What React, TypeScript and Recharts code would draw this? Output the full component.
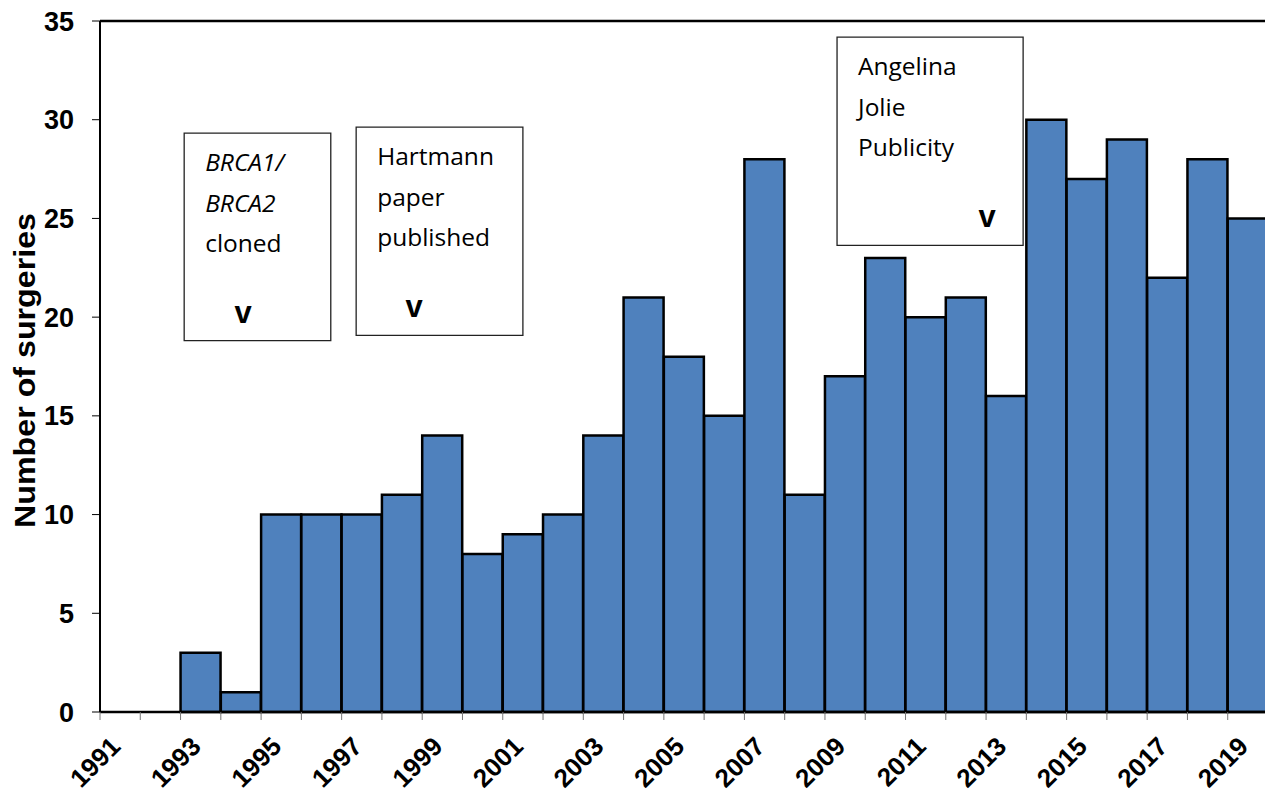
import { BarChart, Bar, XAxis, YAxis, ReferenceArea, ReferenceLine } from "recharts";

const years = [
  1991, 1992, 1993, 1994, 1995, 1996, 1997, 1998, 1999, 2000, 2001, 2002, 2003, 2004, 2005,
  2006, 2007, 2008, 2009, 2010, 2011, 2012, 2013, 2014, 2015, 2016, 2017, 2018, 2019,
];
const surgeries = [
  0, 0, 3, 1, 10, 10, 10, 11, 14, 8, 9, 10, 14, 21, 18, 15, 28, 11, 17, 23, 20, 21, 16, 30, 27,
  29, 22, 28, 25,
];
const yearTicks = [...years, 2020];
const yTicks = [0, 5, 10, 15, 20, 25, 30, 35];

interface Note {
  lines: { text: string; italic?: boolean }[];
  x1: number;
  x2: number;
  y1: number;
  y2: number;
  markDx: number;
}

const notes: Note[] = [
  {
    lines: [{ text: "BRCA1/", italic: true }, { text: "BRCA2", italic: true }, { text: "cloned" }],
    x1: 1993.09,
    x2: 1996.73,
    y1: 18.81,
    y2: 29.32,
    markDx: 59,
  },
  {
    lines: [{ text: "Hartmann" }, { text: "paper" }, { text: "published" }],
    x1: 1997.36,
    x2: 2001.5,
    y1: 19.08,
    y2: 29.62,
    markDx: 58,
  },
  {
    lines: [{ text: "Angelina" }, { text: "Jolie" }, { text: "Publicity" }],
    x1: 2009.3,
    x2: 2013.92,
    y1: 23.64,
    y2: 34.18,
    markDx: 150,
  },
];

const data = years.map((year, i) => ({ year, value: surgeries[i] }));

const AXIS_FONT = "'Liberation Sans', Arial, sans-serif";
const NOTE_FONT = "'Open Sans', 'Noto Sans', sans-serif";

// odd years only, rotated like the spreadsheet original
const YearTick = (props: any) => {
  const { x, y, payload } = props;
  if (payload.value % 2 === 0) return null;
  const ax = x + 22;
  const ay = y + 26;
  return (
    <text
      x={ax}
      y={ay}
      transform={`rotate(-45, ${ax}, ${ay})`}
      textAnchor="end"
      fontFamily={AXIS_FONT}
      fontWeight="bold"
      fontSize={26}
      fill="#000"
    >
      {payload.value}
    </text>
  );
};

const NoteLabel = (props: any) => {
  const { viewBox, note } = props;
  if (!viewBox) return null;
  const { x, y } = viewBox;
  return (
    <g>
      {note.lines.map((ln: any, i: number) => (
        <text
          key={i}
          x={x + 21}
          y={y + 38 + i * 40.5}
          fontFamily={NOTE_FONT}
          fontSize={24.5}
          fontStyle={ln.italic ? "italic" : "normal"}
          fill="#000"
        >
          {ln.text}
        </text>
      ))}
      <text
        x={x + note.markDx}
        y={y + 190}
        textAnchor="middle"
        fontFamily={AXIS_FONT}
        fontWeight="bold"
        fontSize={31}
        fill="#000"
      >
        v
      </text>
    </g>
  );
};

const YTitle = (props: any) => {
  const vb = props.viewBox || { x: 0, y: 21, width: 100, height: 691 };
  const cy = vb.y + vb.height / 2 + 4;
  return (
    <text
      transform={`translate(25, ${cy}) rotate(-90)`}
      textAnchor="middle"
      dominantBaseline="central"
      fontFamily={AXIS_FONT}
      fontWeight="bold"
      fontSize={29}
      textLength={315}
      lengthAdjust="spacingAndGlyphs"
      fill="#000"
    >
      Number of surgeries
    </text>
  );
};

export default function App() {
  return (
    <div style={{ position: "absolute", left: 0, top: 0, width: 1265, height: 796, overflow: "hidden", background: "#fff" }}>
      <BarChart
        width={1268}
        height={796}
        data={data}
        margin={{ top: 21, right: 0, left: 0, bottom: 0 }}
        barCategoryGap={0}
        barGap={0}
      >
        <XAxis xAxisId="cat" dataKey="year" type="category" orientation="top" height={0} hide />
        <XAxis
          xAxisId="yr"
          dataKey="year"
          type="number"
          domain={[1991, 2020]}
          allowDataOverflow
          ticks={yearTicks}
          interval={0}
          height={84}
          tick={<YearTick />}
          tickSize={8}
          tickLine={{ stroke: "#777", strokeWidth: 1 }}
          axisLine={{ stroke: "#000", strokeWidth: 2.5 }}
        />
        <YAxis
          domain={[0, 35]}
          ticks={yTicks}
          interval={0}
          width={100}
          tickSize={8}
          tickMargin={18}
          tick={{ fontFamily: AXIS_FONT, fontWeight: "bold", fontSize: 27, fill: "#000" }}
          tickLine={{ stroke: "#000", strokeWidth: 1 }}
          axisLine={{ stroke: "#000", strokeWidth: 2 }}
          label={<YTitle />}
        />
        <ReferenceLine xAxisId="yr" y={35} stroke="#000" strokeWidth={2.5} ifOverflow="visible" />
        <Bar
          xAxisId="cat"
          dataKey="value"
          fill="#4F81BD"
          stroke="#000"
          strokeWidth={2.5}
          isAnimationActive={false}
        />
        {notes.map((n, i) => (
          <ReferenceArea
            key={i}
            xAxisId="yr"
            x1={n.x1}
            x2={n.x2}
            y1={n.y1}
            y2={n.y2}
            fill="#fff"
            fillOpacity={1}
            stroke="#222"
            strokeWidth={1.3}
            ifOverflow="visible"
            label={<NoteLabel note={n} />}
          />
        ))}
      </BarChart>
    </div>
  );
}
